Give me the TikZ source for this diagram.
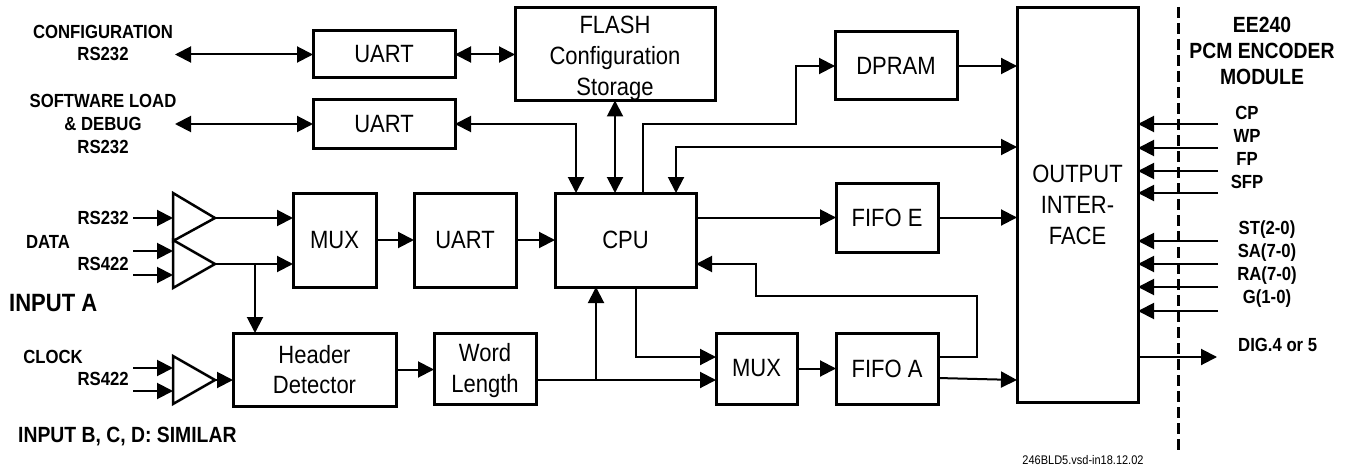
\documentclass[tikz,border=0pt]{standalone}
\usepackage{fontspec}
\setmainfont{Liberation Sans}[FakeStretch=0.88]
\usetikzlibrary{arrows.meta,calc}
\begin{document}
\begin{tikzpicture}[x=1pt,y=-1pt,
  box/.style={draw,line width=3pt,inner sep=0pt,outer sep=0pt,align=center,font=\fontsize{25}{31}\selectfont},
  lbl/.style={font=\bfseries\fontsize{19}{23}\selectfont,inner sep=0pt,align=center},
  wire/.style={line width=2pt},
  tip/.style={-{Triangle[length=16pt,width=16pt]}},
  dtip/.style={{Triangle[length=16pt,width=16pt]}-{Triangle[length=16pt,width=16pt]}},
  amp/.style={line width=2.5pt,line join=miter}]
\useasboundingbox (0,0) rectangle (1348,468);

% boxes
\node[box,minimum width=142pt,minimum height=47pt] (uart1) at (384,54.5) {UART};
\node[box,minimum width=142pt,minimum height=48pt] (uart2) at (384,124) {UART};
\node[box,minimum width=200pt,minimum height=92pt] (flash) at (615,54) {\raisebox{-4pt}[\height][\depth]{\begin{tabular}{@{}c@{}}FLASH\\Configuration\\Storage\end{tabular}}};
\node[box,minimum width=122pt,minimum height=68pt] (dpram) at (896,66) {DPRAM};
\node[box,minimum width=121pt,minimum height=394pt] (out) at (1077.5,205) {OUTPUT\\INTER-\\FACE};
\node[box,minimum width=83pt,minimum height=94pt] (mux1) at (334.5,240) {MUX};
\node[box,minimum width=102pt,minimum height=94pt] (uart3) at (465,240) {UART};
\node[box,minimum width=141pt,minimum height=94pt] (cpu) at (625.5,240) {CPU};
\node[box,minimum width=102pt,minimum height=69pt] (fifoe) at (887,217.5) {FIFO E};
\node[box,minimum width=163pt,minimum height=73pt,font=\fontsize{25}{30}\selectfont] (hdr) at (314.5,369.5) {Header\\Detector};
\node[box,minimum width=102pt,minimum height=71pt,font=\fontsize{25}{31}\selectfont] (wlen) at (485,368.5) {\raisebox{-2pt}[\height][\depth]{\begin{tabular}{@{}c@{}}Word\\Length\end{tabular}}};
\node[box,minimum width=81pt,minimum height=71pt] (mux2) at (756.5,368.5) {MUX};
\node[box,minimum width=102pt,minimum height=71pt] (fifoa) at (887,368.5) {FIFO A};

% amplifiers
\draw[amp] (173,193) -- (215,218) -- (173,241) -- cycle;
\draw[amp] (173,240) -- (215,264) -- (173,288) -- cycle;
\draw[amp] (173,356) -- (215,380) -- (173,404) -- cycle;
\coordinate (a1) at (215,218);
\coordinate (a2) at (215,264);
\coordinate (a3) at (215,380);

% left labels
\node[lbl,font=\bfseries\fontsize{19}{22}\selectfont] (cfglbl) at (103,43) {CONFIGURATION\\RS232};
\node[lbl] (swlbl) at (103,123.5) {SOFTWARE LOAD\\\& DEBUG\\RS232};
\node[lbl,anchor=east] (rs232lbl) at (129,218) {RS232};
\node[lbl] (datalbl) at (48,242) {DATA};
\node[lbl,anchor=east] (rs422lbl) at (129,264) {RS422};
\node[lbl,anchor=west,font=\bfseries\fontsize{25}{30}\selectfont] (inalbl) at (9,303) {INPUT A};
\node[lbl] (clklbl) at (53,357) {CLOCK};
\node[lbl,anchor=east] (rs422blbl) at (129,379) {RS422};
\node[lbl,anchor=west,font=\bfseries\fontsize{22}{26}\selectfont] (inblbl) at (18,437) {INPUT B, C, D: SIMILAR};

% right labels
\node[lbl,font=\bfseries\fontsize{22}{26}\selectfont] (modlbl) at (1262,51) {EE240\\PCM ENCODER\\MODULE};
\node[lbl] (plbl) at (1247,147.5) {CP\\WP\\FP\\SFP};
\node[lbl] (slbl) at (1267,264) {ST(2-0)\\SA(7-0)\\RA(7-0)\\G(1-0)};
\node[lbl,anchor=west] (diglbl) at (1238,345) {DIG.4 or 5};
\node[inner sep=0pt,font=\fontsize{12.5}{15}\selectfont] (foot) at (1083,460) {246BLD5.vsd-in18.12.02};

% module boundary
\draw[line width=3pt,dash pattern=on 11pt off 5pt] (1178,7) -- (1178,450);

% left serial links
\coordinate (cfg) at (175,54.5);
\coordinate (sw) at (175,124);
\draw[wire,dtip] (cfg) -- (uart1.west);
\draw[wire,dtip] (sw) -- (uart2.west);
\draw[wire,dtip] (uart1.east) -- (uart1.east -| flash.west);

% input arrows
\coordinate (i1) at (133,218);
\coordinate (i2) at (133,251);
\coordinate (i3) at (133,275);
\coordinate (i4) at (133,368);
\coordinate (i5) at (133,391);
\foreach \c in {i1,i2,i3,i4,i5} \draw[wire,tip] (\c) -- ++(40,0);

% amplifier outputs
\draw[wire,tip] (a1) -- (a1 -| mux1.west);
\draw[wire,tip] (a2) -- (a2 -| mux1.west);
\coordinate (br1) at (255,264);
\draw[wire,tip] (br1) -- (br1 |- hdr.north);
\draw[wire,tip] (a3) -- (a3 -| hdr.west);

% main chain
\draw[wire,tip] (mux1.east) -- (uart3.west);
\draw[wire,tip] (uart3.east) -- (cpu.west);
\draw[wire,tip] (hdr.east) -- (hdr.east -| wlen.west);
\coordinate (wl) at ($(wlen.north east)+(0,47)$);
\draw[wire,tip] (wl) -- (wl -| mux2.west);
\coordinate (br2) at ($(cpu.south west)+(41,0)$);
\draw[wire,tip] (br2 |- wl) -- (br2);
\draw[wire,tip] ($(cpu.south west)+(81,0)$) |- ($(mux2.north west)+(0,24)$);
\draw[wire,tip] (mux2.east) -- (fifoa.west);
\draw[wire,tip] ($(fifoa.north east)+(0,45)$) -- ($(out.south west)+(0,-22)$);
\draw[wire,tip] ($(fifoa.north east)+(0,24)$) -| (977,296) -| (756,264) -- ($(cpu.north east)+(0,71)$);

% CPU top connections
\draw[wire,dtip] (uart2.east) -| ($(cpu.north west)+(21,0)$);
\draw[wire,dtip] (flash.south) -- (flash.south |- cpu.north);
\draw[wire,tip] ($(cpu.north west)+(88,0)$) |- (796,124) |- (dpram.west);
\draw[wire,dtip] ($(cpu.north west)+(121,0)$) |- ($(out.north west)+(0,139)$);

% to output interface
\draw[wire,tip] (fifoe.west -| cpu.east) -- (fifoe.west);
\draw[wire,tip] (dpram.east) -- (dpram.east -| out.west);
\draw[wire,tip] (fifoe.east) -- (fifoe.east -| out.west);

% module signals
\foreach \y [count=\i] in {124,148,171,193,241,264,287,311} {
  \coordinate (sig\i) at (1218,\y);
  \draw[wire,tip] (sig\i) -- (sig\i -| out.east);
}
\coordinate (dig) at (1217,357);
\draw[wire,tip] (dig -| out.east) -- (dig);
\end{tikzpicture}
\end{document}
